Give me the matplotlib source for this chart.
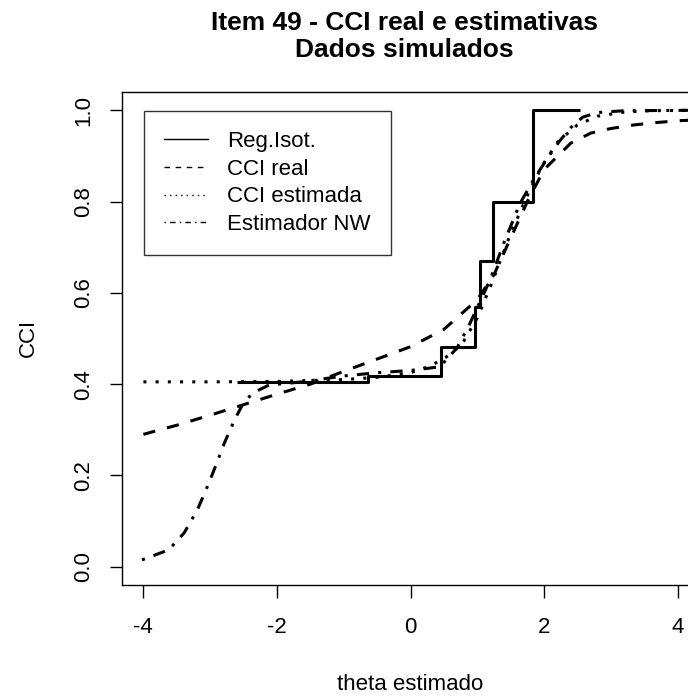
import numpy as np
import matplotlib
matplotlib.use("Agg")
import matplotlib.pyplot as plt
from matplotlib.lines import Line2D

plt.rcParams['font.family'] = ['Liberation Sans', 'DejaVu Sans']

# Regressao isotonica (degraus)
iso_x = [-2.6, -0.64, 0.45, 0.97, 1.04, 1.24, 1.84, 2.54]
iso_y = [0.405, 0.418, 0.482, 0.57, 0.67, 0.80, 1.0, 1.0]

# CCI real (tracejada)
real_x = [-4.0, -3.5, -3.0, -2.5, -2.0, -1.5, -1.0, -0.5, 0.0, 0.5, 1.0, 1.25, 1.5, 1.75, 2.0, 2.4, 2.7, 3.0, 3.3, 3.6, 4.0, 4.32]
real_y = [0.29, 0.31, 0.332, 0.355, 0.378, 0.40, 0.428, 0.455, 0.482, 0.52, 0.585, 0.64, 0.72, 0.80, 0.87, 0.928, 0.95, 0.96, 0.967, 0.972, 0.977, 0.979]

# CCI estimada (pontilhada)
est_x = [-4.0, -3.0, -2.0, -1.5, -1.0, -0.5, 0.0, 0.3, 0.6, 0.8, 1.0, 1.2, 1.5, 1.8, 2.0, 2.2, 2.5, 2.8, 3.2, 3.6, 4.32]
est_y = [0.405, 0.405, 0.406, 0.408, 0.41, 0.415, 0.425, 0.44, 0.465, 0.495, 0.545, 0.615, 0.73, 0.83, 0.885, 0.93, 0.968, 0.987, 0.996, 0.999, 1.0]

# Estimador Nadaraya-Watson (traco-ponto)
nw_x = [-4.02, -3.62, -3.39, -3.19, -3.02, -2.92, -2.79, -2.64, -2.52, -2.37, -2.12, -1.62, -1.0, -0.5, 0.0, 0.44, 0.7, 0.89, 1.19, 1.4, 1.64, 1.84, 2.05, 2.24, 2.4, 2.58, 2.8, 3.2, 4.32]
nw_y = [0.015, 0.037, 0.074, 0.125, 0.183, 0.22, 0.27, 0.32, 0.354, 0.38, 0.398, 0.405, 0.418, 0.425, 0.43, 0.438, 0.48, 0.533, 0.628, 0.71, 0.796, 0.847, 0.895, 0.934, 0.962, 0.985, 0.995, 0.999, 1.0]

labels = ["Reg.Isot.", "CCI real", "CCI estimada", "Estimador NW"]

W, H = 688, 698
fs = 16
fig = plt.figure(figsize=(W / 100, H / 100), dpi=100)
# a caixa do grafico passa da borda direita, como no original recortado
ax = fig.add_axes([122 / W, 1 - 585 / H, (699 - 122) / W, (585 - 92) / H])

lw = 2.2
ax.plot(iso_x, iso_y, color="black", lw=lw, drawstyle="steps-post", solid_capstyle="butt")
ax.plot(real_x, real_y, color="black", lw=lw, dashes=(4, 4))
ax.plot(est_x, est_y, color="black", lw=lw, dashes=(1, 3))
ax.plot(nw_x, nw_y, color="black", lw=lw, dashes=(1, 3, 4, 3))

ax.set_xlim(-4.32, 4.32)
ax.set_ylim(-0.04, 1.04)
ax.set_xticks([-4, -2, 0, 2, 4])
ax.set_yticks([0.0, 0.2, 0.4, 0.6, 0.8, 1.0])
ax.set_xticklabels(["-4", "-2", "0", "2", "4"])
ax.set_yticklabels(["0.0", "0.2", "0.4", "0.6", "0.8", "1.0"], rotation=90, va="center")
ax.tick_params(axis="both", length=9, width=1, labelsize=fs, pad=11, color="black")
ax.tick_params(axis="x", pad=14)
for sp in ax.spines.values():
    sp.set_linewidth(1)

fig.text(410 / W, 1 - 684 / H, "theta estimado", ha="center", va="center", fontsize=fs)
fig.text(28 / W, 1 - 338 / H, "CCI", ha="center", va="center", rotation=90, fontsize=fs)
fig.text(404 / W, 1 - 30 / H, "Item 49 - CCI real e estimativas", ha="center", va="baseline",
         fontsize=19, fontweight="bold")
fig.text(404 / W, 1 - 57 / H, "Dados simulados", ha="center", va="baseline",
         fontsize=19, fontweight="bold")

handles = [
    Line2D([], [], color="black", lw=1),
    Line2D([], [], color="black", lw=1, dashes=(4, 4)),
    Line2D([], [], color="black", lw=1, dashes=(1, 3)),
    Line2D([], [], color="black", lw=1, dashes=(1, 3, 4, 3)),
]
leg = ax.legend(handles, labels, loc="upper left",
                bbox_to_anchor=((144 - 122) / (699 - 122), 1 - (111 - 92) / (585 - 92)),
                fontsize=fs, frameon=True, fancybox=False, handlelength=2.0, handletextpad=0.85,
                labelspacing=0.3, borderpad=0.9, borderaxespad=0)
leg.get_frame().set_edgecolor("black")
leg.get_frame().set_linewidth(1)

fig.savefig("out.png", dpi=100)
